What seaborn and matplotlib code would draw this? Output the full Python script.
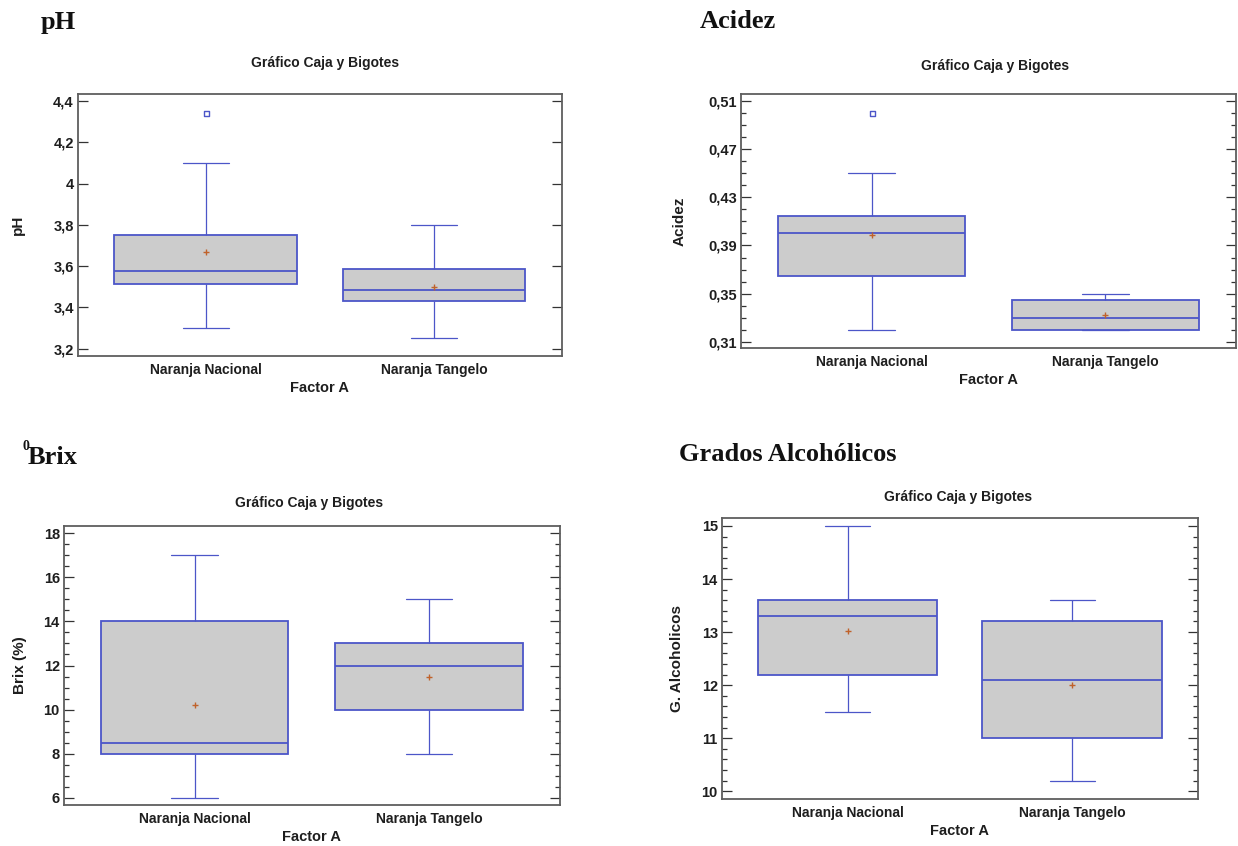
import numpy as np
import pandas as pd
import matplotlib
matplotlib.use("Agg")
import matplotlib.pyplot as plt
from matplotlib import font_manager as fm
from matplotlib.ticker import MultipleLocator, NullLocator
import seaborn as sns

# ---------------- data ----------------
GROUPS = ["Naranja Nacional", "Naranja Tangelo"]
# five-number summaries per group: [lower whisker, Q1, median, Q3, upper whisker]
PH_NACIONAL = [3.30, 3.515, 3.575, 3.75, 4.10]
PH_TANGELO = [3.25, 3.43, 3.485, 3.585, 3.80]
PH_MEANS = [3.67, 3.50]
PH_OUTLIER_GROUPS = ["Naranja Nacional"]
PH_OUTLIERS = [4.34]
PH_TICKS = [3.2, 3.4, 3.6, 3.8, 4.0, 4.2, 4.4]
PH_TICKLABELS = ["3,2", "3,4", "3,6", "3,8", "4", "4,2", "4,4"]

AC_NACIONAL = [0.32, 0.365, 0.40, 0.4145, 0.45]
AC_TANGELO = [0.32, 0.32, 0.3295, 0.3448, 0.35]
AC_MEANS = [0.3988, 0.3322]
AC_OUTLIER_GROUPS = ["Naranja Nacional"]
AC_OUTLIERS = [0.4995]
AC_TICKS = [0.31, 0.35, 0.39, 0.43, 0.47, 0.51]
AC_TICKLABELS = ["0,31", "0,35", "0,39", "0,43", "0,47", "0,51"]

BX_NACIONAL = [6.0, 8.0, 8.5, 14.0, 17.0]
BX_TANGELO = [8.0, 10.0, 12.0, 13.0, 15.0]
BX_MEANS = [10.22, 11.5]
BX_OUTLIER_GROUPS = []
BX_OUTLIERS = []
BX_TICKS = [6, 8, 10, 12, 14, 16, 18]
BX_TICKLABELS = ["6", "8", "10", "12", "14", "16", "18"]

GA_NACIONAL = [11.5, 12.2, 13.3, 13.6, 15.0]
GA_TANGELO = [10.2, 11.0, 12.1, 13.2, 13.6]
GA_MEANS = [13.03, 12.0]
GA_OUTLIER_GROUPS = []
GA_OUTLIERS = []
GA_TICKS = [10, 11, 12, 13, 14, 15]
GA_TICKLABELS = ["10", "11", "12", "13", "14", "15"]

# ---------------- style ----------------
sns.set_theme(style="white")
names = {f.name for f in fm.fontManager.ttflist}
NARROW = "Liberation Sans Narrow" if "Liberation Sans Narrow" in names else "Liberation Sans"
plt.rcParams["font.family"] = ["Liberation Sans", "DejaVu Sans"]
SERIF = ["Liberation Serif", "DejaVu Serif"]

FILL = "#cccccc"
EDGE = "#4c56c8"
MEAN_C = "#c0622b"
SPINE = "#5e5e5e"
TXT = "#1e1e1e"

W, H = 1238, 846
fig = plt.figure(figsize=(W / 100, H / 100), dpi=100)


def rect(x0, y0, x1, y1):
    return [x0 / W, 1 - y1 / H, (x1 - x0) / W, (y1 - y0) / H]


def ftext(x, y, s, **kw):
    fig.text(x / W, 1 - y / H, s, **kw)


def panel(box, summaries, means, out_groups, outliers, ticks, ticklabels,
          minor, ylim, ylabel, ylabel_px, sub_xy, fac_pad):
    ax = fig.add_axes(rect(*box))
    df = pd.DataFrame({
        "Factor A": np.repeat(GROUPS, [len(s) for s in summaries]),
        "valor": np.concatenate(summaries),
    })
    sns.boxplot(data=df, x="Factor A", y="valor", order=GROUPS, whis=(0, 100),
                width=0.8, color=FILL, linecolor=EDGE, saturation=1,
                showfliers=False, capwidths=0.2,
                boxprops=dict(linewidth=1.3), medianprops=dict(linewidth=1.3),
                whiskerprops=dict(linewidth=0.9), capprops=dict(linewidth=0.9),
                ax=ax)
    sns.stripplot(x=GROUPS, y=means, order=GROUPS, jitter=False, marker="+",
                  size=4.5, color=MEAN_C, edgecolor=MEAN_C, linewidth=1, ax=ax,
                  zorder=5)
    if outliers:
        sns.stripplot(x=out_groups, y=outliers, order=GROUPS, jitter=False,
                      marker="s", size=3.6, color="white", edgecolor=EDGE,
                      linewidth=1, ax=ax, zorder=5)
    ax.set_xlim(-0.559, 1.56)
    ax.set_ylim(*ylim)
    ax.set_yticks(ticks, ticklabels, fontfamily=NARROW, fontweight="bold",
                  fontsize=10.5, color=TXT)
    if minor:
        ax.yaxis.set_minor_locator(MultipleLocator(minor))
    else:
        ax.yaxis.set_minor_locator(NullLocator())
    for t in ax.get_xticklabels():
        t.set_fontfamily(NARROW)
        t.set_fontweight("bold")
        t.set_fontsize(10)
        t.set_color(TXT)
    ax.tick_params(axis="y", which="major", direction="in", length=7,
                   width=0.9, color="#333333", left=True, right=True, pad=3)
    ax.tick_params(axis="y", which="minor", direction="in", length=3.5,
                   width=0.9, color="#333333", left=True, right=True)
    ax.tick_params(axis="x", length=0, pad=5)
    for sp in ax.spines.values():
        sp.set_visible(True)
        sp.set_color(SPINE)
        sp.set_linewidth(1.3)
    ax.set_xlabel("Factor A", fontfamily=NARROW, fontweight="bold",
                  fontsize=10.5, color=TXT, labelpad=fac_pad)
    ax.set_ylabel(ylabel, fontweight="bold", fontsize=11, color=TXT,
                  va="center")
    x0, y0, x1, y1 = box
    ax.yaxis.set_label_coords((ylabel_px - x0) / (x1 - x0), 0.5)
    ftext(sub_xy[0], sub_xy[1], "Gráfico Caja y Bigotes", ha="center",
          va="center", fontfamily=NARROW, fontweight="bold", fontsize=10,
          color=TXT)
    return ax


panel((78, 94, 562, 356), [PH_NACIONAL, PH_TANGELO], PH_MEANS,
      PH_OUTLIER_GROUPS, PH_OUTLIERS, PH_TICKS, PH_TICKLABELS, None,
      (3.164, 4.434), "pH", 18, (325, 63), 3)
panel((741, 94, 1236, 348), [AC_NACIONAL, AC_TANGELO], AC_MEANS,
      AC_OUTLIER_GROUPS, AC_OUTLIERS, AC_TICKS, AC_TICKLABELS, 0.01,
      (0.305, 0.5155), "Acidez", 680, (995, 66), 3)
panel((64, 526, 560, 805), [BX_NACIONAL, BX_TANGELO], BX_MEANS,
      BX_OUTLIER_GROUPS, BX_OUTLIERS, BX_TICKS, BX_TICKLABELS, 0.5,
      (5.67, 18.33), "Brix (%)", 20, (309, 503), 3)
panel((722, 518, 1198, 799), [GA_NACIONAL, GA_TANGELO], GA_MEANS,
      GA_OUTLIER_GROUPS, GA_OUTLIERS, GA_TICKS, GA_TICKLABELS, 0.2,
      (9.855, 15.15), "G. Alcoholicos", 677, (958, 497), 3)

# section headings
HEAD = dict(fontfamily=SERIF, fontweight="bold", fontsize=19, color="#111111",
            va="center", ha="left")
ftext(41, 22, "pH", **HEAD)
ftext(700, 21, "Acidez", **HEAD)
ftext(22, 446, "0", fontfamily=SERIF, fontweight="bold", fontsize=10,
      color="#111111", va="center", ha="left")
ftext(28, 457, "Brix", **HEAD)
ftext(679, 454, "Grados Alcohólicos", **HEAD)

fig.savefig("out.png", dpi=100)
